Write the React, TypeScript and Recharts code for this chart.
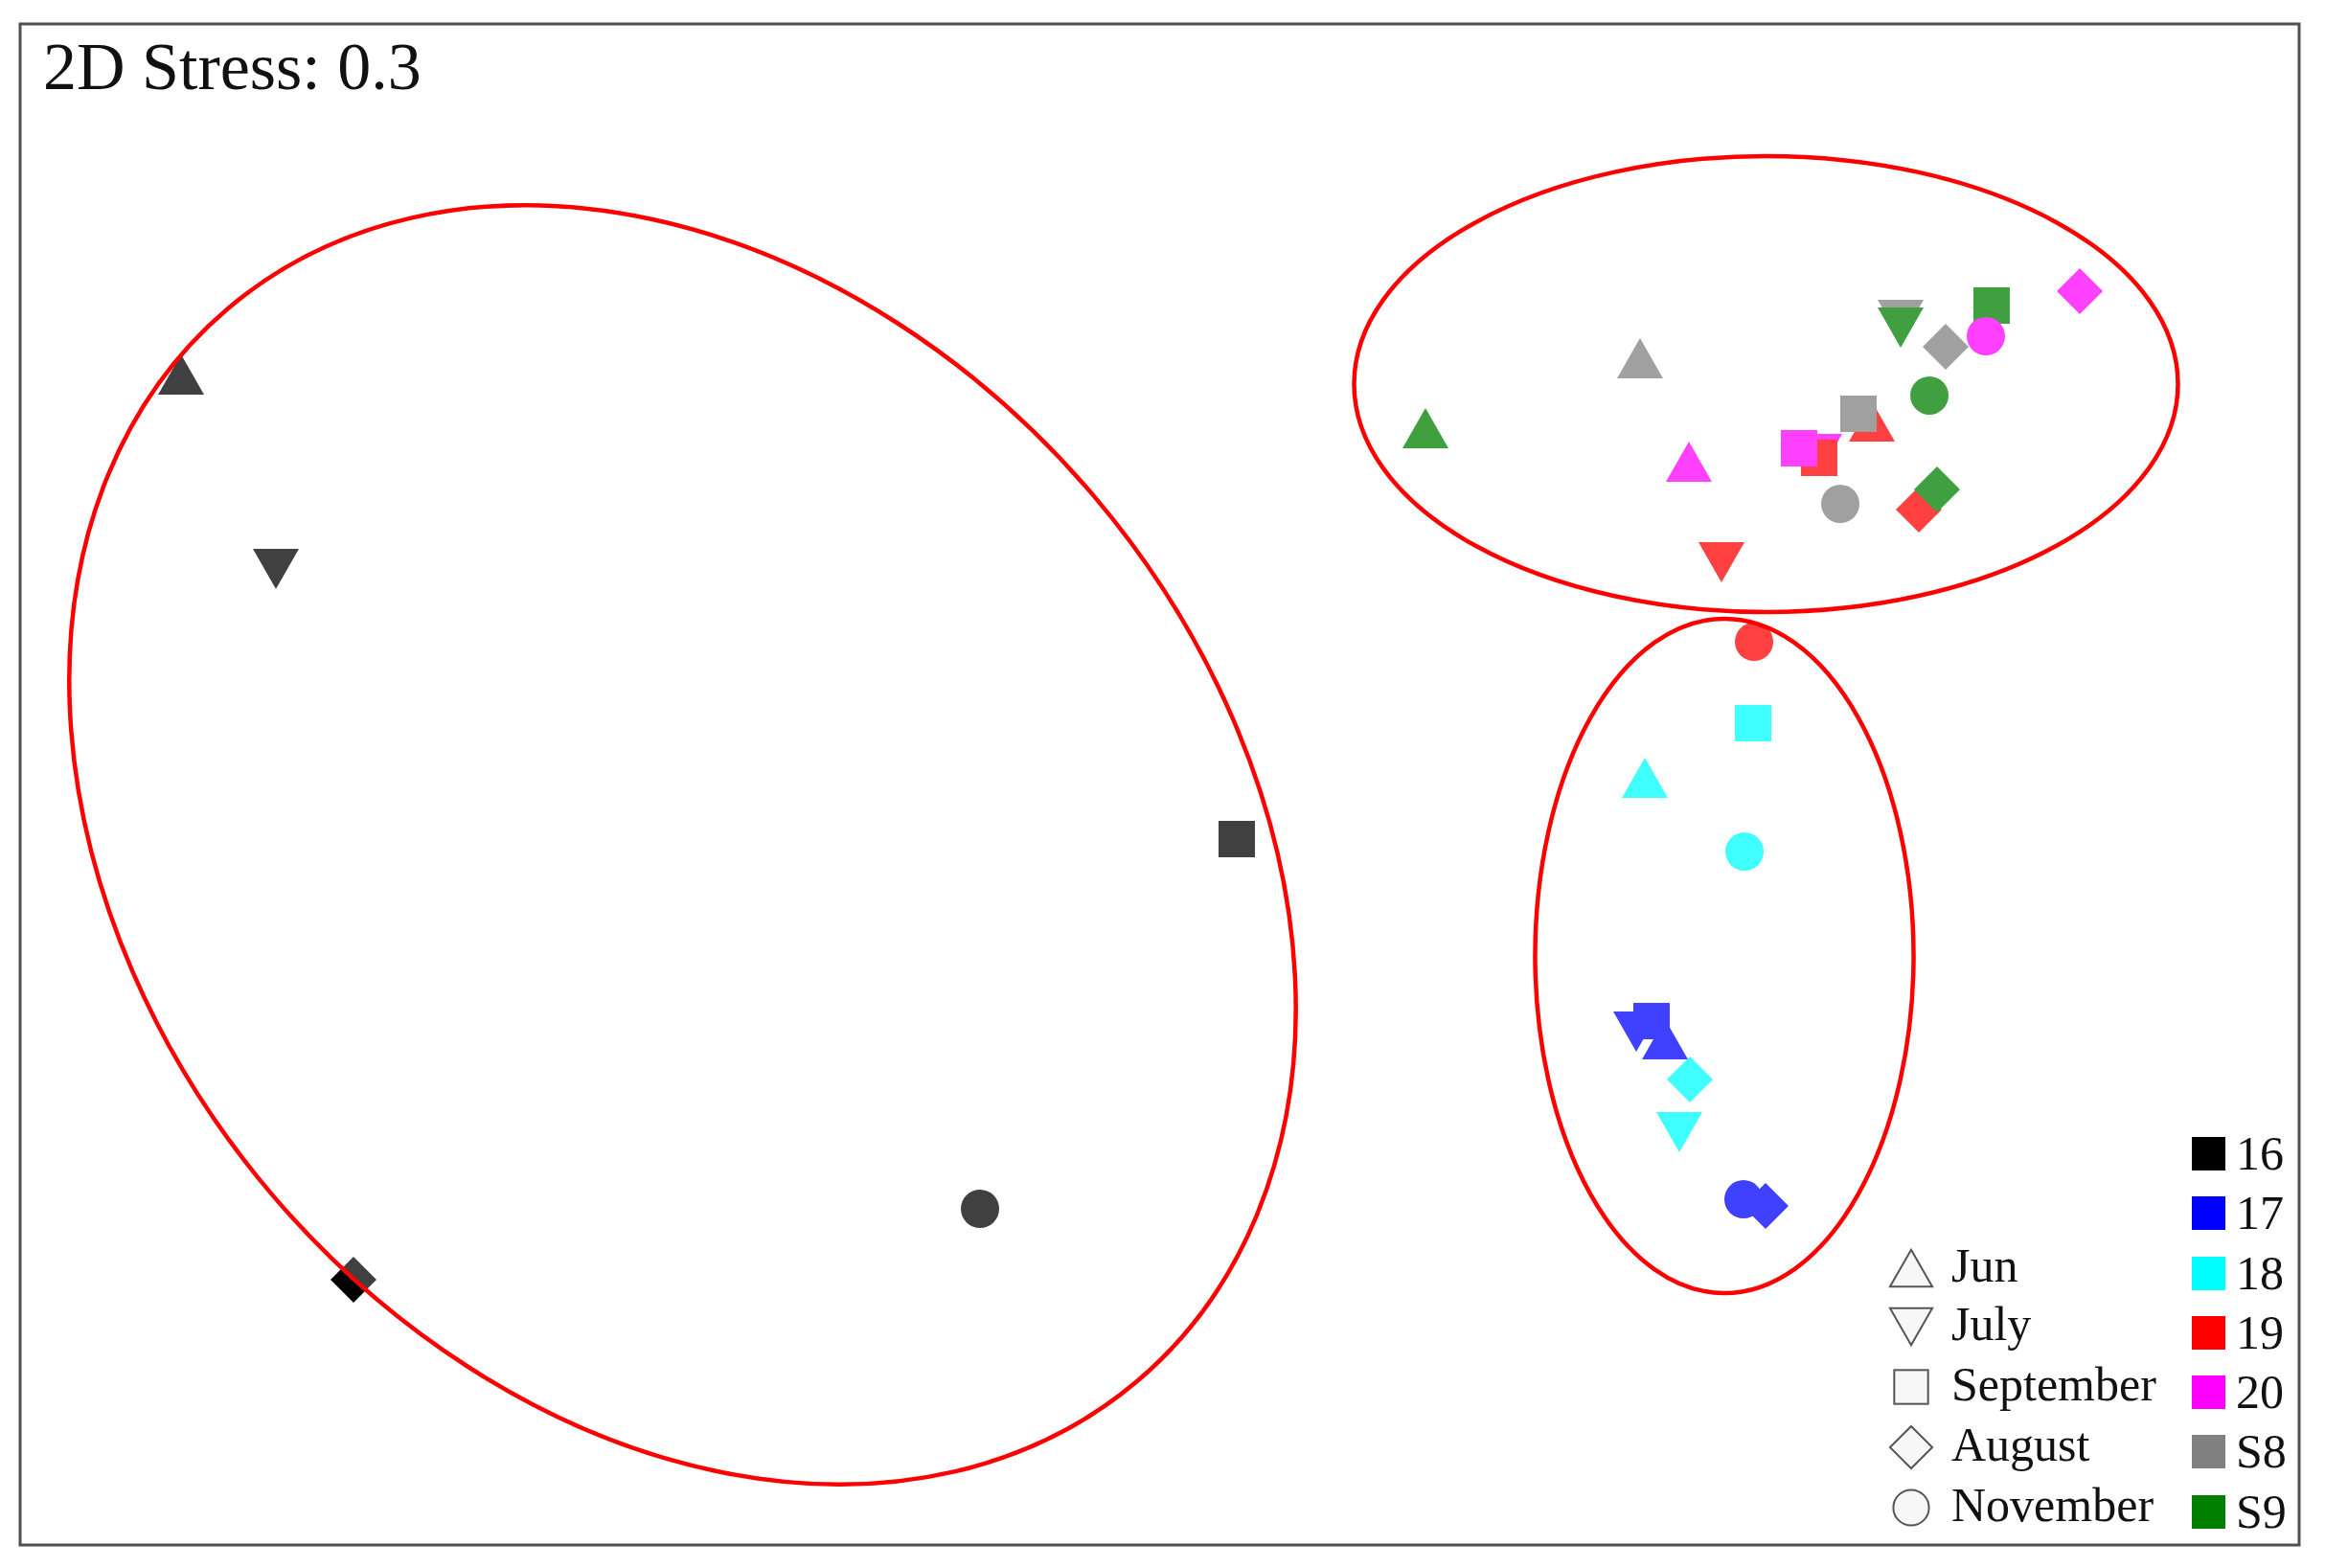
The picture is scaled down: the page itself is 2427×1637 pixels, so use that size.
import React from "react";
import {
  ScatterChart,
  Scatter,
  XAxis,
  YAxis,
  ReferenceArea,
  Legend,
  Customized,
} from "recharts";

// ---- data ----
const SITES = ["16", "17", "18", "19", "20", "S8", "S9"];
const SITE_COLORS = ["#000000", "#0000ff", "#00ffff", "#ff0000", "#ff00ff", "#808080", "#008000"];
const MONTHS = ["Jun", "July", "September", "August", "November"];
const MONTH_SHAPES = ["triangle", "invTriangle", "square", "diamond", "circle"];

const junX = [-1.7025, 0.8792, 0.8442, 1.2392, 0.9208, 0.8358, 0.4625];
const junY = [0.7133, -0.4433, 0.0117, 0.6317, 0.5617, 0.7417, 0.62];
const julyX = [-1.5375, 0.8292, 0.9042, 0.9775, 1.1475, 1.2892, 1.2892];
const julyY = [0.375, -0.43, -0.605, 0.3867, 0.575, 0.8083, 0.795];
const sepX = [0.1342, 0.8558, 1.0325, 1.1475, 1.1125, 1.2158, 1.4475];
const sepY = [-0.095, -0.4117, 0.1067, 0.5683, 0.585, 0.645, 0.8333];
const augX = [-1.4025, 1.0542, 0.9225, 1.3208, 1.6008, 1.3675, 1.3525];
const augY = [-0.8617, -0.7333, -0.5133, 0.4783, 0.8583, 0.7617, 0.5133];
const novX = [-0.3125, 1.0158, 1.0175, 1.0342, 1.4375, 1.1842, 1.3392];
const novY = [-0.7383, -0.7217, -0.1167, 0.2483, 0.78, 0.4883, 0.6767];

// grouping ellipses (centre, semi-axes in data units, rotation in degrees)
const ellipseCx = [-0.83, 1.055, 0.9825];
const ellipseCy = [-0.105, 0.6967, -0.2983];
const ellipseRx = [1.2233, 0.7167, 0.3292];
const ellipseRy = [0.9383, 0.3967, 0.5867];
const ellipseAngle = [49.67, 0, 0];

const X_DOMAIN = [-1.9825, 1.9825];
const Y_DOMAIN = [-1.3233, 1.3233];
const TITLE = "2D Stress: 0.3";

const buildSeries = (xs: number[], ys: number[]) =>
  SITES.map((s, i) => ({ site: i, name: s, x: xs[i], y: ys[i] }));

const monthData = [
  buildSeries(junX, junY),
  buildSeries(julyX, julyY),
  buildSeries(sepX, sepY),
  buildSeries(augX, augY),
  buildSeries(novX, novY),
];

const FONT = "'Liberation Serif', 'Times New Roman', serif";

function shapeEl(kind: string, cx: number, cy: number, fill: string, stroke: string, sw: number, k = 1) {
  const common = { fill, stroke, strokeWidth: sw };
  switch (kind) {
    case "triangle": {
      const w = 24 * k, h = 21 * k;
      return <polygon {...common} points={`${cx},${cy - h} ${cx + w},${cy + h} ${cx - w},${cy + h}`} />;
    }
    case "invTriangle": {
      const w = 24 * k, h = 21 * k;
      return <polygon {...common} points={`${cx - w},${cy - h} ${cx + w},${cy - h} ${cx},${cy + h}`} />;
    }
    case "square": {
      const s = 19 * k;
      return <rect {...common} x={cx - s} y={cy - s} width={2 * s} height={2 * s} />;
    }
    case "diamond": {
      const d = 24 * k;
      return <polygon {...common} points={`${cx},${cy - d} ${cx + d},${cy} ${cx},${cy + d} ${cx - d},${cy}`} />;
    }
    default:
      return <circle {...common} cx={cx} cy={cy} r={20 * k} />;
  }
}

const makeShape = (kind: string) => (props: any) => {
  const { cx, cy, payload } = props;
  if (cx == null || cy == null) return <g />;
  return shapeEl(kind, cx, cy, SITE_COLORS[payload.site], "none", 0);
};

const EllipseShape = (angle: number) => (props: any) => {
  const { x, y, width, height } = props;
  const cx = x + width / 2;
  const cy = y + height / 2;
  return (
    <ellipse
      cx={cx}
      cy={cy}
      rx={Math.abs(width / 2)}
      ry={Math.abs(height / 2)}
      transform={`rotate(${angle} ${cx} ${cy})`}
      fill="#ffffff"
      fillOpacity={0.25}
      stroke="#ff0000"
      strokeWidth={4.5}
    />
  );
};

const renderLegend = () => {
  const siteRows = [44, 106, 169, 231, 293, 355, 418];
  const monthRows = [164, 225, 288, 351, 414];
  return (
    <svg width={470} height={460} style={{ display: "block", overflow: "visible" }}>
      {MONTHS.map((m, i) => (
        <g key={m}>
          {shapeEl(MONTH_SHAPES[i], 35, monthRows[i], "#f7f7f7", "#555555", 2, i === 2 || i === 4 ? 0.93 : 0.92)}
          <text x={77} y={monthRows[i] + 14} fontFamily={FONT} fontSize={50} fill="#111">
            {m}
          </text>
        </g>
      ))}
      {SITES.map((s, i) => (
        <g key={s}>
          <rect x={328} y={siteRows[i] - 17} width={35} height={35} fill={SITE_COLORS[i]} />
          <text x={374} y={siteRows[i] + 17} fontFamily={FONT} fontSize={50} fill="#111">
            {s}
          </text>
        </g>
      ))}
    </svg>
  );
};

const Title = () => (
  <text x={37} y={85} fontFamily={FONT} fontSize={70} fill="#111">
    {TITLE}
  </text>
);

export default function App() {
  return (
    <div style={{ width: 2419, height: 1625, background: "#fff" }}>
      <ScatterChart
        width={2419}
        height={1625}
        margin={{ top: 17, left: 13, right: 27, bottom: 20 }}
        style={{ background: "#fff" }}
      >
        <XAxis type="number" dataKey="x" domain={X_DOMAIN} allowDataOverflow hide />
        <YAxis type="number" dataKey="y" domain={Y_DOMAIN} allowDataOverflow hide />
        {MONTHS.map((m, i) => (
          <Scatter
            key={m}
            name={m}
            data={monthData[i]}
            shape={makeShape(MONTH_SHAPES[i])}
            isAnimationActive={false}
          />
        ))}
        {ellipseCx.map((cx, i) => (
          <ReferenceArea
            key={"e" + i}
            x1={cx - ellipseRx[i]}
            x2={cx + ellipseRx[i]}
            y1={ellipseCy[i] - ellipseRy[i]}
            y2={ellipseCy[i] + ellipseRy[i]}
            ifOverflow="visible"
            shape={EllipseShape(ellipseAngle[i])}
            zIndex={700}
          />
        ))}
        <ReferenceArea
          x1={X_DOMAIN[0]}
          x2={X_DOMAIN[1]}
          y1={Y_DOMAIN[0]}
          y2={Y_DOMAIN[1]}
          ifOverflow="visible"
          fill="none"
          fillOpacity={0}
          stroke="#505050"
          strokeWidth={3}
          zIndex={800}
        />
        <Customized component={Title} />
        <Legend
          layout="horizontal"
          verticalAlign="middle"
          align="center"
          content={renderLegend}
          wrapperStyle={{ position: "absolute", left: 1952, top: 1152, width: 470, height: 460 }}
        />
      </ScatterChart>
    </div>
  );
}
